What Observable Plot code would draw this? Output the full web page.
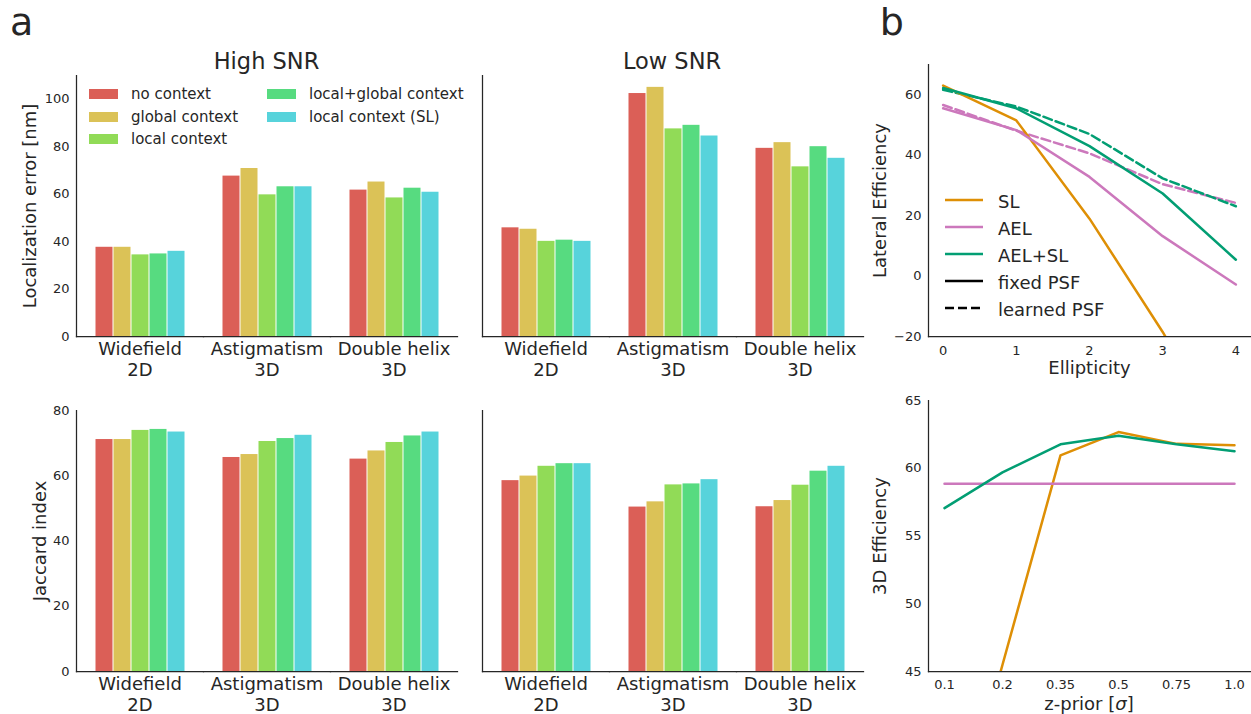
<!DOCTYPE html>
<html><head><meta charset="utf-8">
<script src="https://cdn.jsdelivr.net/npm/d3@7"></script>
<script src="https://cdn.jsdelivr.net/npm/@observablehq/plot@0.6"></script>
<style>
body{margin:0;background:#fff;}
#root{position:relative;width:1251px;height:714px;overflow:hidden;font-family:"DejaVu Sans",sans-serif;color:#262626;background:#fff}
.abs{position:absolute;white-space:nowrap;line-height:1;}
.panel{position:absolute;}
.panel svg{overflow:visible;display:block;}
.leg{position:absolute;display:flex;align-items:center;white-space:nowrap;height:20px;}
</style></head><body><div id="root"></div>
<script>
const ink = "#262626";

// ---- panel a data ----
const groups = ["Widefield\n2D", "Astigmatism\n3D", "Double helix\n3D"];
const contexts = ["no context", "global context", "local context", "local+global context", "local context (SL)"];
const contextColors = ["#db5f57", "#dbc257", "#91db57", "#57db80", "#57d3db"];
const locErrorHigh = [[37.6, 37.6, 34.4, 34.8, 35.9], [67.6, 70.8, 59.7, 63.1, 63.1], [61.7, 65.1, 58.4, 62.5, 60.8]];
const locErrorLow = [[45.8, 45.2, 40.1, 40.6, 40.1], [102.4, 105.0, 87.5, 89.0, 84.5], [79.3, 81.7, 71.5, 80.0, 75.1]];
const jaccardHigh = [[71.1, 71.1, 73.9, 74.2, 73.4], [65.6, 66.5, 70.5, 71.4, 72.4], [65.1, 67.6, 70.2, 72.2, 73.4]];
const jaccardLow = [[58.5, 59.9, 62.9, 63.7, 63.7], [50.4, 52.0, 57.2, 57.5, 58.8], [50.5, 52.4, 57.1, 61.4, 62.9]];
const locTicks = [0, 20, 40, 60, 80, 100];
const jacTicks = [0, 20, 40, 60, 80];

// ---- panel b data ----
const methods = ["SL", "AEL", "AEL+SL"];
const methodColors = ["#de8f05", "#cc78bc", "#029e73"];
const ellipticity = [0, 1, 2, 3, 4];
const latFixedSL = [63.0, 51.5, 19.0, -18.5, -60.0];
const latFixedAEL = [55.5, 48.3, 32.8, 13.2, -2.8];
const latFixedAELSL = [62.2, 55.5, 43.0, 27.3, 5.4];
const latLearnedAEL = [56.6, 48.1, 40.6, 30.4, 24.2];
const latLearnedAELSL = [61.6, 56.1, 47.0, 32.3, 23.1];
const latTicks = [-20, 0, 20, 40, 60];
const zPrior = ["0.1", "0.2", "0.35", "0.5", "0.75", "1.0"];
const eff3dSL = [30.0, 45.5, 60.95, 62.67, 61.8, 61.7];
const eff3dAEL = [58.86, 58.86, 58.86, 58.86, 58.86, 58.86];
const eff3dAELSL = [57.06, 59.7, 61.77, 62.4, 61.77, 61.25];
const eff3dTicks = [45, 50, 55, 60, 65];

const root = document.getElementById("root");
const baseStyle = {fontFamily: "DejaVu Sans", fontSize: "13px", color: ink, background: "transparent", overflow: "visible"};
const fmt = d => (d < 0 ? "\u2212" + Math.abs(d) : String(d));

function place(node, left, top) {
  const d = document.createElement("div");
  d.className = "panel";
  d.style.left = left + "px";
  d.style.top = top + "px";
  d.appendChild(node);
  root.appendChild(d);
}
function addText(html, left, top, size, extra = "") {
  const d = document.createElement("div");
  d.className = "abs";
  d.style.cssText = `left:${left}px;top:${top}px;font-size:${size}px;${extra}`;
  d.innerHTML = html;
  root.appendChild(d);
}
const yAxis = (ticks, extra = {}) => Plot.axisY({anchor: "left", ticks, tickFormat: fmt, tickSize: 0, tickPadding: 7, fontSize: 13, textAnchor: "end", label: null, fill: ink, ...extra});
const yLabel = (label, dx, extra = {}) => Plot.text([label], {text: d => d, frameAnchor: "left", textAnchor: "middle", rotate: -90, dx, lineAnchor: "bottom", fontSize: 18, fill: ink, ...extra});

function barPanel(values, o) {
  const data = groups.flatMap((g, i) => contexts.map((c, j) => ({group: g, context: c, value: values[i][j]})));
  const marks = [
    Plot.barY(data, {fx: "group", x: "context", y: "value", fill: "context", insetLeft: 0.5, insetRight: 0.5}),
    Plot.frame({anchor: "bottom", stroke: ink, strokeWidth: 1.25}),
    Plot.frame({anchor: "left", facetAnchor: "left", stroke: ink, strokeWidth: 1.25}),
    Plot.axisFx({anchor: "bottom", tickSize: 0, tickPadding: 4, fontSize: 18, lineHeight: 1.16, label: null, fill: ink})
  ];
  if (o.ticks) {
    marks.push(yAxis(o.ticks, {facetAnchor: "left"}));
    marks.push(yLabel(o.label, o.labelDx, {facetAnchor: "left"}));
  }
  return Plot.plot({
    width: o.width, height: o.height,
    marginLeft: o.ml, marginRight: o.mr, marginTop: o.mt, marginBottom: o.mb,
    style: baseStyle,
    fx: {domain: groups, paddingInner: 0, paddingOuter: 0},
    x: {domain: contexts, paddingInner: 0, paddingOuter: 0.9, axis: null},
    y: o.ticks ? {domain: o.domain} : {domain: o.domain, axis: null},
    color: {domain: contexts, range: contextColors},
    marks
  });
}

place(barPanel(locErrorHigh, {width: 470, height: 350, ml: 75, mr: 12, mt: 35, mb: 54, domain: [0, 110], ticks: locTicks, label: "Localization error [nm]", labelDx: -40.6}), 0, 40);
place(barPanel(locErrorLow, {width: 400, height: 350, ml: 11, mr: 7, mt: 35, mb: 54, domain: [0, 110]}), 470, 40);
place(barPanel(jaccardHigh, {width: 470, height: 334, ml: 75, mr: 12, mt: 30, mb: 43, domain: [0, 80], ticks: jacTicks, label: "Jaccard index", labelDx: -31}), 0, 380);
place(barPanel(jaccardLow, {width: 400, height: 334, ml: 11, mr: 7, mt: 30, mb: 43, domain: [0, 80]}), 470, 380);

// ---- b top ----
const rows = (xs, ys, method) => xs.map((x, i) => ({x, y: ys[i], method}));
const latFixed = [...rows(ellipticity, latFixedSL, "SL"), ...rows(ellipticity, latFixedAEL, "AEL"), ...rows(ellipticity, latFixedAELSL, "AEL+SL")];
const latLearned = [...rows(ellipticity, latLearnedAEL, "AEL"), ...rows(ellipticity, latLearnedAELSL, "AEL+SL")];
place(Plot.plot({
  width: 391, height: 350, marginLeft: 68, marginRight: 1, marginTop: 24, marginBottom: 54,
  style: baseStyle,
  x: {domain: [-0.2, 4.2], axis: null},
  y: {domain: [-20, 70], axis: null},
  color: {domain: methods, range: methodColors},
  marks: [
    Plot.line(latLearned, {x: "x", y: "y", z: "method", stroke: "method", strokeWidth: 2.5, strokeDasharray: "9,4", clip: true}),
    Plot.line(latFixed, {x: "x", y: "y", z: "method", stroke: "method", strokeWidth: 2.5, clip: true}),
    Plot.frame({anchor: "bottom", stroke: ink, strokeWidth: 1.25}),
    Plot.frame({anchor: "left", stroke: ink, strokeWidth: 1.25}),
    Plot.axisX({anchor: "bottom", ticks: ellipticity, tickFormat: fmt, tickSize: 0, tickPadding: 9, fontSize: 13, label: null, fill: ink}),
    yAxis(latTicks),
    yLabel("Lateral Efficiency", -43),
    Plot.text(["Ellipticity"], {text: d => d, frameAnchor: "bottom", textAnchor: "middle", dy: 37, lineAnchor: "bottom", fontSize: 18, fill: ink})
  ]
}), 860, 40);

// ---- b bottom ----
const eff = [...rows(zPrior, eff3dSL, "SL"), ...rows(zPrior, eff3dAEL, "AEL"), ...rows(zPrior, eff3dAELSL, "AEL+SL")];
place(Plot.plot({
  width: 391, height: 334, marginLeft: 68, marginRight: 1, marginTop: 20, marginBottom: 43,
  style: baseStyle,
  x: {type: "point", domain: zPrior, padding: 0.25, axis: null},
  y: {domain: [45, 65], axis: null},
  color: {domain: methods, range: methodColors},
  marks: [
    Plot.line(eff, {x: "x", y: "y", z: "method", stroke: "method", strokeWidth: 2.5, clip: true}),
    Plot.frame({anchor: "bottom", stroke: ink, strokeWidth: 1.25}),
    Plot.frame({anchor: "left", stroke: ink, strokeWidth: 1.25}),
    Plot.axisX({anchor: "bottom", tickSize: 0, tickPadding: 8, fontSize: 13, label: null, fill: ink}),
    yAxis(eff3dTicks),
    yLabel("3D Efficiency", -43)
  ]
}), 860, 380);

// ---- titles & labels ----
addText("a", 10, 3.4, 38);
addText("b", 879.8, 3.4, 38);
addText("High SNR", 266.5, 50.4, 22.5, "transform:translateX(-50%);");
addText("Low SNR", 672, 50.4, 22.5, "transform:translateX(-50%);");
addText('z-prior [<i>σ</i>]', 1089, 694.5, 18, "transform:translateX(-50%);");

// ---- legend a ----
contexts.forEach((c, i) => {
  const col = i < 3 ? 0 : 1, row = i < 3 ? i : i - 3;
  const d = document.createElement("div");
  d.className = "leg";
  d.style.left = (89 + col * 178) + "px";
  d.style.top = (94.3 + row * 22.2 - 10) + "px";
  d.style.fontSize = "15px";
  d.innerHTML = `<span style="display:inline-block;width:29px;height:10px;background:${contextColors[i]};margin-right:13px"></span><span>${c}</span>`;
  root.appendChild(d);
});

// ---- legend b ----
const legB = [
  {label: "SL", color: methodColors[0], dash: null},
  {label: "AEL", color: methodColors[1], dash: null},
  {label: "AEL+SL", color: methodColors[2], dash: null},
  {label: "fixed PSF", color: "#000", dash: null},
  {label: "learned PSF", color: "#000", dash: "9,4"}
];
legB.forEach((it, k) => {
  const d = document.createElement("div");
  d.className = "leg";
  d.style.left = "945px";
  d.style.top = (200 + k * 27 - 10) + "px";
  d.style.fontSize = "18px";
  d.innerHTML = `<svg width="38" height="6" style="margin-right:15px;overflow:visible"><line x1="0" x2="38" y1="3" y2="3" stroke="${it.color}" stroke-width="2.5" ${it.dash ? `stroke-dasharray="${it.dash}"` : ""}/></svg><span style="position:relative;top:1px">${it.label}</span>`;
  root.appendChild(d);
});
</script>
</body></html>
